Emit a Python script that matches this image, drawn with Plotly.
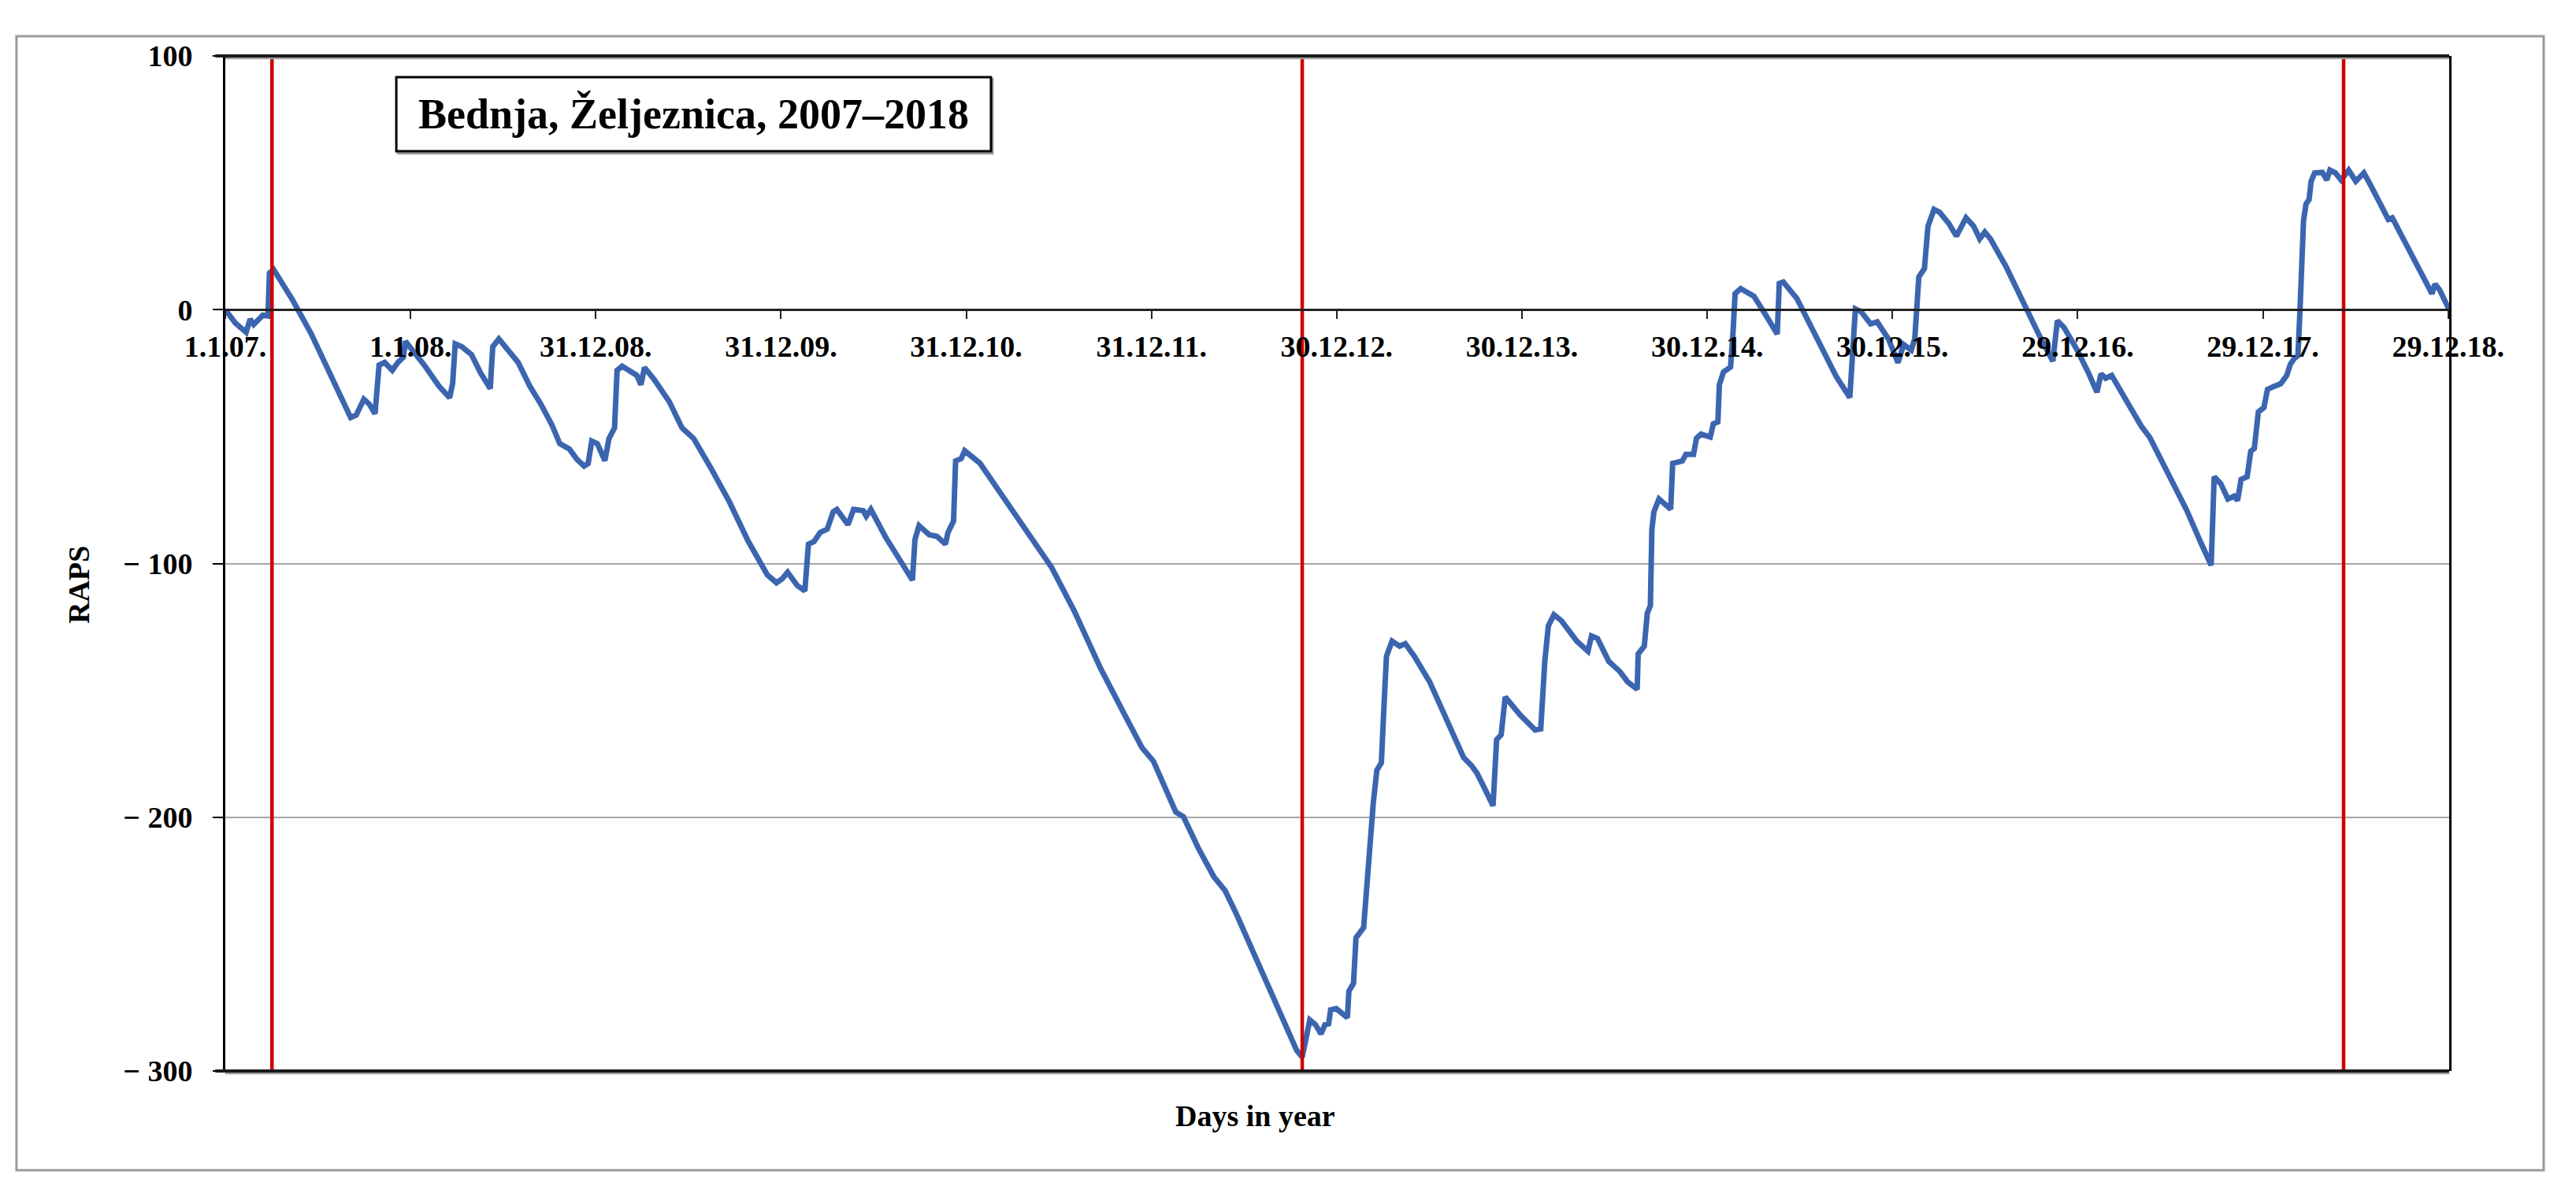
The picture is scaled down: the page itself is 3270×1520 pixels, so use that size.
import plotly.graph_objects as go

# ---- data ----
days = [0, 20, 41, 49, 56, 65, 74, 84, 87, 95, 132, 169, 206, 247, 258, 273, 284, 295, 303, 314,
        329, 340, 351, 355, 392, 421, 442, 448, 453, 466, 485, 503, 522, 527, 539, 555, 577, 600,
        622, 644, 659, 678, 693, 707, 715, 722, 733, 748, 756, 767, 772, 782, 797, 811, 819, 826,
        845, 875, 900, 923, 956, 993, 1030, 1068, 1086, 1097, 1108, 1127, 1142, 1149, 1160, 1172,
        1186, 1198, 1205, 1227, 1238, 1257, 1263, 1272, 1301, 1331, 1354, 1359, 1367, 1387, 1402,
        1419, 1424, 1435, 1439, 1450, 1457, 1487, 1524, 1576, 1628, 1673, 1725, 1777, 1806, 1829,
        1873, 1888, 1918, 1948, 1970, 1992, 2037, 2081, 2111, 2122, 2137, 2148, 2159, 2167, 2174,
        2178, 2189, 2211, 2214, 2223, 2228, 2243, 2251, 2262, 2269, 2278, 2283, 2288, 2299, 2314,
        2325, 2343, 2373, 2410, 2440, 2455, 2466, 2481, 2498, 2505, 2514, 2522, 2551, 2581, 2592,
        2600, 2607, 2618, 2633, 2663, 2685, 2692, 2704, 2726, 2748, 2763, 2782, 2784, 2796, 2802,
        2808, 2811, 2815, 2825, 2848, 2852, 2871, 2878, 2893, 2899, 2908, 2926, 2932, 2941, 2944,
        2952, 2966, 2971, 2975, 2986, 3012, 3034, 3058, 3062, 3070, 3097, 3119, 3145, 3175, 3201,
        3206, 3212, 3223, 3242, 3255, 3277, 3296, 3307, 3322, 3329, 3337, 3348, 3355, 3367, 3378,
        3396, 3411, 3419, 3430, 3445, 3457, 3467, 3478, 3508, 3545, 3575, 3601, 3610, 3623, 3649,
        3671, 3688, 3696, 3705, 3717, 3746, 3775, 3792, 3827, 3865, 3894, 3913, 3919, 3932, 3946,
        3958, 3965, 3972, 3984, 3991, 3998, 4006, 4017, 4024, 4036, 4050, 4062, 4069, 4077, 4084,
        4088, 4095, 4100, 4106, 4110, 4117, 4132, 4141, 4147, 4158, 4169, 4184, 4198, 4214, 4229,
        4262, 4270, 4296, 4326, 4348, 4354, 4363, 4382]

raps = [0, -5.3, -8.9, -3.7, -5.8, -4.2, -2.2, -2.5, 14.5, 15.9, 4.0, -9.4, -24.9, -42.5, -41.5,
        -35.3, -37.3, -41.0, -21.8, -20.8, -23.9, -20.8, -18.7, -12.5, -21.8, -30.1, -34.7, -29.0,
        -13.5, -14.6, -17.7, -24.9, -31.1, -14.6, -11.5, -15.6, -20.8, -30.1, -37.3, -45.6, -52.8,
        -54.9, -59.0, -61.6, -60.6, -51.8, -52.8, -59.5, -50.8, -46.6, -23.9, -22.3, -24.4, -25.9,
        -29.6, -22.8, -27.5, -36.3, -46.6, -50.8, -62.1, -75.6, -91.1, -104.5, -107.6, -106.1,
        -103.5, -108.7, -110.8, -92.4, -91.4, -87.8, -86.5, -79.6, -78.7, -84.7, -78.7, -79.2,
        -81.4, -78.7, -89.6, -99.6, -106.6, -90.5, -85.1, -88.7, -89.3, -92.4, -87.8, -83.3, -59.6,
        -58.7, -55.6, -60.5, -71.4, -86.9, -101.5, -118.8, -141.5, -161.5, -172.5, -178.0, -198.0,
        -199.8, -212.5, -223.5, -228.9, -238.0, -258.0, -278.1, -291.8, -294.5, -279.9, -281.7,
        -285.4, -281.7, -281.4, -275.9, -275.4, -279.0, -268.5, -265.5, -247.5, -243.5, -220.5,
        -194.5, -181.5, -178.5, -156.5, -136.6, -130.6, -132.6, -131.6, -136.6, -146.6, -162.6,
        -176.5, -179.5, -182.5, -188.5, -195.5, -169.5, -167.5, -152.6, -159.6, -165.6, -165.2,
        -138.6, -124.6, -120.2, -122.6, -130.6, -134.6, -128.6, -129.6, -138.6, -142.6, -146.6,
        -149.6, -135.6, -132.6, -119.6, -116.6, -86.6, -79.6, -74.6, -78.6, -60.6, -59.6, -57.0,
        -57.0, -50.6, -49.0, -50.2, -45.0, -44.2, -29.6, -24.6, -22.6, -8.6, 6.3, 8.3, 5.3, -1.7,
        -9.6, 10.3, 10.9, 4.3, -4.6, -15.6, -26.6, -34.6, -14.6, 0.3, -0.7, -5.6, -4.8, -11.5,
        -20.9, -13.7, -15.9, -11.5, 12.9, 16.2, 32.9, 39.5, 38.4, 34.0, 29.0, 31.7, 36.2, 32.9,
        27.9, 30.6, 27.9, 17.3, 1.8, -10.4, -20.3, -4.3, -7.0, -15.9, -24.8, -32.5, -25.3, -27.0,
        -25.9, -35.9, -45.8, -50.3, -63.6, -79.1, -92.4, -100.7, -65.8, -68.6, -74.6, -73.5, -75.2,
        -66.9, -65.8, -55.8, -54.7, -40.3, -38.6, -31.4, -30.3, -29.2, -25.9, -21.5, -19.2, -18.1,
        -0.4, 35.1, 41.7, 43.4, 50.6, 53.9, 54.1, 51.1, 55.0, 53.9, 51.1, 55.0, 50.6, 53.9, 48.4,
        35.6, 36.2, 26.2, 15.1, 6.3, 10.1, 7.9, 0.0]

change_days = [92, 2122, 4174]

x_tick_days = [0, 365, 730, 1095, 1460, 1825, 2190, 2555, 2920, 3285, 3650, 4015, 4380]
x_tick_labels = ["1.1.07.", "1.1.08.", "31.12.08.", "31.12.09.", "31.12.10.", "31.12.11.",
                 "30.12.12.", "30.12.13.", "30.12.14.", "30.12.15.", "29.12.16.", "29.12.17.",
                 "29.12.18."]
y_tick_vals = [100, 0, -100, -200, -300]
y_tick_labels = ["100", "0", "\u2212 100", "\u2212 200", "\u2212 300"]

title_text = "Bednja, Željeznica, 2007\u20132018"
x_title = "Days in year"
y_title = "RAPS"

FONT = "Liberation Serif, Times New Roman, serif"

fig = go.Figure()

fig.add_trace(go.Scatter(
    x=days, y=raps, mode="lines",
    line=dict(color="#3C65AF", width=7),
    hoverinfo="skip", showlegend=False,
))

for d in change_days:
    fig.add_trace(go.Scatter(
        x=[d, d], y=[-300, 100], mode="lines",
        line=dict(color="#D00000", width=4.5),
        hoverinfo="skip", showlegend=False, cliponaxis=False,
    ))

# page body has an 8px default margin, so the figure is 8px smaller and margins shifted
fig.update_layout(
    width=3262, height=1512,
    margin=dict(l=278, r=161, t=63, b=160),
    paper_bgcolor="white", plot_bgcolor="white",
    showlegend=False,
    xaxis=dict(
        range=[0, 4382], anchor="free", position=0.75,
        showgrid=False, zeroline=False,
        showline=True, linecolor="#222222", linewidth=2.5,
        ticks="outside", ticklen=10, tickwidth=2, tickcolor="#222222",
        tickvals=x_tick_days, ticktext=x_tick_labels,
        tickfont=dict(family=FONT, size=38, color="black", weight="bold"),
        ticklabelstandoff=2,
    ),
    yaxis=dict(
        range=[-300, 100],
        showgrid=True, gridcolor="#A6A6A6", gridwidth=2,
        zeroline=False,
        showline=True, mirror=True, linecolor="black", linewidth=3,
        ticks="outside", ticklen=13, tickwidth=2, tickcolor="black",
        tickvals=y_tick_vals, ticktext=y_tick_labels,
        tickfont=dict(family=FONT, size=38, color="black", weight="bold"),
        ticklabelstandoff=18,
    ),
)

shapes = []
# heavy top / bottom frame lines with slight grey shadow
for yy, off in [(1, -0.0022), (0, -0.0022)]:
    shapes.append(dict(type="line", xref="paper", yref="paper", x0=0, x1=1, y0=yy + off, y1=yy + off,
                       line=dict(color="#A0A0A0", width=3), layer="above"))
    shapes.append(dict(type="line", xref="paper", yref="paper", x0=-0.0045, x1=1, y0=yy, y1=yy,
                       line=dict(color="#1A1A1A", width=4), layer="above"))
# outer chart border
shapes.append(dict(type="rect", xref="paper", yref="paper", x0=-0.0939, x1=1.0425, y0=-0.0977, y1=1.0194,
                   line=dict(color="#9A9A9A", width=3), layer="below"))
# title box (shadow + box)
shapes.append(dict(type="rect", xref="paper", yref="paper", x0=0.0776, x1=0.3450, y0=0.9040, y1=0.9770,
                   line=dict(color="#9A9A9A", width=3), fillcolor="rgba(0,0,0,0)", layer="above"))
shapes.append(dict(type="rect", xref="paper", yref="paper", x0=0.0769, x1=0.3443, y0=0.9061, y1=0.9791,
                   line=dict(color="black", width=3), fillcolor="white", layer="above"))
fig.update_layout(shapes=shapes)

fig.add_annotation(
    text=title_text, xref="paper", yref="paper", x=0.2106, y=0.9426,
    xanchor="center", yanchor="middle", showarrow=False,
    font=dict(family=FONT, size=54, color="black", weight="bold"),
)
fig.add_annotation(
    text=x_title, xref="paper", yref="paper", x=0.4633, y=-0.0442,
    xanchor="center", yanchor="middle", showarrow=False,
    font=dict(family=FONT, size=38, color="black", weight="bold"),
)
fig.add_annotation(
    text=y_title, xref="paper", yref="paper", x=-0.0659, y=0.4794, textangle=-90,
    xanchor="center", yanchor="middle", showarrow=False,
    font=dict(family=FONT, size=38, color="black", weight="bold"),
)

fig.write_html("out.html")
